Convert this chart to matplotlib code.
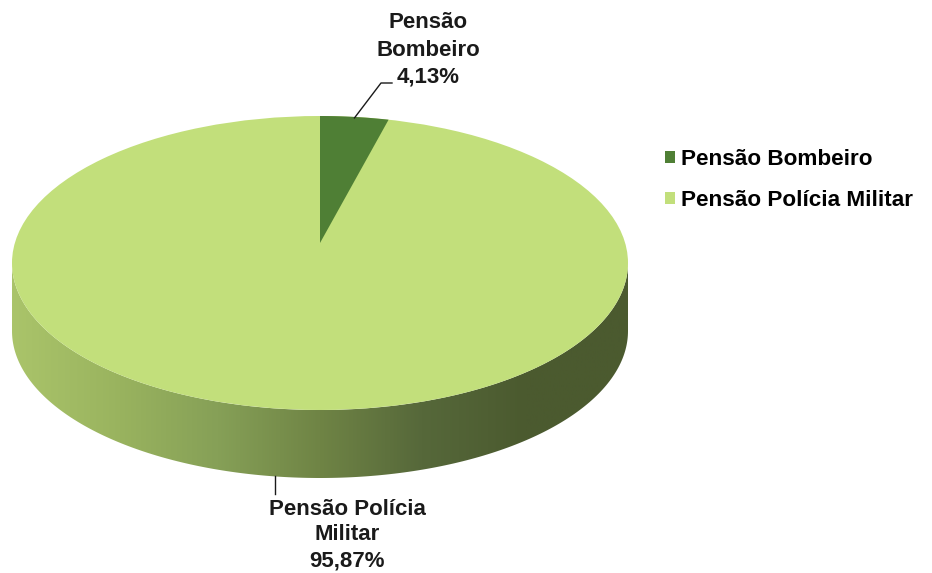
import numpy as np
import matplotlib
matplotlib.use("Agg")
import matplotlib.pyplot as plt
from matplotlib.patches import Polygon, Ellipse, Patch
from matplotlib.colors import LinearSegmentedColormap

# Data
labels = ["Pensão Bombeiro", "Pensão Polícia Militar"]
label_text = ["Pensão\nBombeiro", "Pensão Polícia\nMilitar"]
values = [4.13, 95.87]
colors = ["#4f7f35", "#c2df7b"]

# side gradient (light left -> dark right)
side_stops = ["#aac46a", "#9ab45f", "#86a057", "#6f8445", "#56683a", "#4b5a2f", "#4b5a2f"]

# pie geometry in pixel coords
cx, cy = 320, 263
a, b = 308, 147
depth = 68
lift = 20  # perspective: pie centre seen above the ellipse centre


def rim(theta):
    # point on the top rim seen from the pie centre, theta clockwise from 12 o'clock
    t = np.radians(theta)
    dx, dy = np.sin(t), -np.cos(t)
    py = -lift / b
    pd = py * dy
    s = -pd + np.sqrt(pd ** 2 - py ** 2 + 1)
    return cx + a * s * dx, cy + b * (py + s * dy)


def ell(theta):
    t = np.radians(theta)
    return cx + a * np.sin(t), cy - b * np.cos(t)


fig = plt.figure(figsize=(9.32, 5.73), dpi=100)
ax = fig.add_axes([0, 0, 1, 1])
ax.set_xlim(0, 932)
ax.set_ylim(573, 0)
ax.axis("off")

# front side of the cylinder
th = np.linspace(90, 270, 200)
tx, ty = ell(th)
side_pts = np.column_stack([np.r_[tx, tx[::-1]], np.r_[ty, ty[::-1] + depth]])
side = Polygon(side_pts, closed=True, facecolor="none", edgecolor="none")
ax.add_patch(side)
cmap = LinearSegmentedColormap.from_list("side", side_stops)
grad = np.linspace(0, 1, 256).reshape(1, -1)
im = ax.imshow(grad, cmap=cmap, aspect="auto",
               extent=(cx - a, cx + a, cy + b + depth, cy - b), zorder=1)
im.set_clip_path(side)

# top face
ax.add_patch(Ellipse((cx, cy), 2 * a, 2 * b, facecolor=colors[1], edgecolor="none", zorder=2))

# wedges on top
fracs = np.array(values) / sum(values)
start = 0.0
mids = []
for i, f in enumerate(fracs):
    end = start + f * 360
    mids.append((start + end) / 2)
    if i == 0:
        th = np.linspace(start, end, 50)
        wx, wy = rim(th)
        pts = np.column_stack([np.r_[cx, wx], np.r_[cy - lift, wy]])
        ax.add_patch(Polygon(pts, closed=True, facecolor=colors[i], edgecolor="none", zorder=3))
    start = end

fmt = lambda v: f"{v:.2f}".replace(".", ",") + "%"
font = dict(family=["Liberation Sans", "DejaVu Sans"], fontweight="bold", fontsize=16, color="#1a1a1a")

# Bombeiro label with leader line
x0, y0 = rim(mids[0])
ax.plot([x0, 381, 392], [y0 + 1, 83, 83], color="#1a1a1a", lw=1, zorder=4)
ax.text(428, 50, label_text[0] + "\n" + fmt(values[0]), ha="center", va="center",
        linespacing=1.38, **font)

# Polícia label with leader line
x1, y1 = rim(mids[1])
ax.plot([x1, x1], [y1 + depth, 494], color="#1a1a1a", lw=1, zorder=4)
ax.text(347, 535, label_text[1] + "\n" + fmt(values[1]), ha="center", va="center",
        linespacing=1.3, **font)

# legend
handles = [Patch(facecolor=c, edgecolor="none") for c in colors]
ax.legend(handles, labels, loc="center left", bbox_to_anchor=(645, 180),
          bbox_transform=ax.transData, frameon=False,
          prop=dict(family="Liberation Sans", weight="bold", size=16.2),
          handlelength=0.42, handleheight=0.42, handletextpad=0.3, labelspacing=0.88)

fig.savefig("out.png", dpi=100)
